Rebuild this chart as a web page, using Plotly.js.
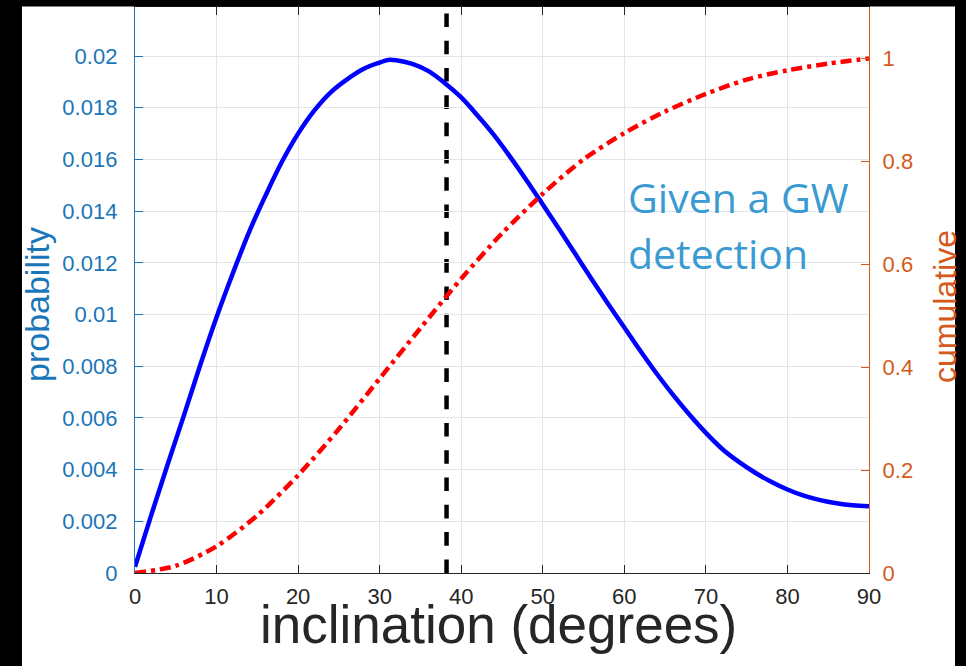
<!DOCTYPE html>
<html>
<head>
<meta charset="utf-8">
<script src="https://cdn.plot.ly/plotly-3.0.1.min.js"></script>
<style>html,body{margin:0;padding:0;background:#fff;}#chart{width:966px;height:666px;}</style>
</head>
<body>
<div id="chart"></div>
<script>
// inclination (degrees) sample points for the probability curve
const pdfInclination = [0,2,4,6,8,10,12,14,16,18,20,22,24,26,28,30,31,32,34,36,38,40,42,44,46,48,50,52,54,56,58,60,62,64,66,68,70,72,74,76,78,80,82,84,86,88,90];
// probability per degree (left axis)
const pdfProbability = [0.00024,0.00225,0.0042,0.0061,0.00805,0.0099,0.0116,0.0132,0.0146,0.0159,0.0170,0.0179,0.0186,0.0191,0.0195,0.01975,0.01985,0.01984,0.0197,0.01942,0.01895,0.0184,0.0177,0.01695,0.0161,0.0152,0.01426,0.01331,0.01234,0.01137,0.01042,0.0095,0.00858,0.0077,0.00688,0.00612,0.00542,0.0048,0.00431,0.00389,0.00353,0.00323,0.00299,0.00282,0.0027,0.00262,0.00258];
// inclination sample points for cumulative curve
const cdfInclination = [0,5,10,15,20,25,30,35,40,45,50,55,60,65,70,75,80,85,90];
// cumulative probability (right axis)
const cdfCumulative = [0,0.014,0.052,0.112,0.19,0.28,0.378,0.476,0.572,0.660,0.737,0.804,0.855,0.897,0.931,0.959,0.977,0.990,1.0];
// vertical dashed marker (degrees)
const markerInclination = [38.2];
// tick labels
const xTickVals = [0,10,20,30,40,50,60,70,80,90];
const xTickText = ['0','10','20','30','40','50','60','70','80','90'];
const yTickVals = [0,0.002,0.004,0.006,0.008,0.01,0.012,0.014,0.016,0.018,0.02];
const yTickText = ['0','0.002','0.004','0.006','0.008','0.01','0.012','0.014','0.016','0.018','0.02'];
const y2TickVals = [0,0.2,0.4,0.6,0.8,1];
const y2TickText = ['0','0.2','0.4','0.6','0.8','1'];
const axisTitles = {x:'inclination (degrees)', y:'probability', y2:'cumulative'};
const noteLines = ['Given a GW','detection'];

const BLUE_AX = '#1a76b8';
const ORANGE_AX = '#d45a20';
const FONT = 'Liberation Sans, Arial, Helvetica, sans-serif';

const traces = [
  {x: pdfInclination, y: pdfProbability, type:'scatter', mode:'lines', yaxis:'y',
   line:{color:'#0000ff', width:4.5, shape:'spline', smoothing:1}, hoverinfo:'skip'},
  {x: cdfInclination, y: cdfCumulative, type:'scatter', mode:'lines', yaxis:'y2',
   line:{color:'#ff0000', width:4.5, dash:'11px,5px,4px,5px', shape:'spline', smoothing:0.8}, hoverinfo:'skip'}
];

const blackBox = (x0,x1,y0,y1) => ({type:'rect', xref:'paper', yref:'paper', x0:x0, x1:x1, y0:y0, y1:y1,
  fillcolor:'#000', line:{width:0}, layer:'above'});

const layout = {
  width:966, height:666,
  margin:{l:135, r:97, t:7, b:93, pad:0},
  paper_bgcolor:'#fff', plot_bgcolor:'#fff',
  showlegend:false,
  font:{family:FONT},
  xaxis:{range:[0,90], tickvals:xTickVals, ticktext:xTickText, ticks:'inside', ticklen:8, tickwidth:1,
    tickcolor:'#262626', showline:true, linecolor:'#262626', linewidth:1.2, mirror:'ticks',
    showgrid:true, gridcolor:'#e2e6eb', gridwidth:1, zeroline:false,
    tickfont:{size:22, color:'#262626', family:FONT}, ticklabelstandoff:3},
  yaxis:{range:[0,0.0219], tickvals:yTickVals, ticktext:yTickText, ticks:'inside', ticklen:8, tickwidth:1,
    tickcolor:BLUE_AX, showline:true, linecolor:BLUE_AX, linewidth:1.2, mirror:false,
    showgrid:true, gridcolor:'#e2e6eb', gridwidth:1, zeroline:false,
    tickfont:{size:22, color:BLUE_AX, family:FONT}, ticklabelstandoff:12},
  yaxis2:{range:[0,1.1], overlaying:'y', side:'right', tickvals:y2TickVals, ticktext:y2TickText,
    ticks:'inside', ticklen:8, tickwidth:1, tickcolor:ORANGE_AX, showline:true, linecolor:ORANGE_AX, linewidth:1.2,
    showgrid:false, zeroline:false, tickfont:{size:22, color:ORANGE_AX, family:FONT}, ticklabelstandoff:8},
  shapes:[
    {type:'line', xref:'x', yref:'paper', x0:markerInclination[0], x1:markerInclination[0], y0:0, y1:1,
     line:{color:'#000', width:4.5, dash:'13.6px,13.7px'}, layer:'between'},
    blackBox(-0.4, -0.154, -0.3, 1.2),
    blackBox(-0.4, 1.4, 1.0009, 1.2),
    blackBox(1.1172, 1.4, -0.3, 1.2)
  ],
  annotations:[
    {xref:'paper', yref:'paper', x:(498-135)/734, y:(573-624)/566, xanchor:'center', yanchor:'middle', showarrow:false,
     text:axisTitles.x, font:{size:53, color:'#262626', family:FONT}},
    {xref:'paper', yref:'paper', x:(37-135)/734, y:(573-305)/566, xanchor:'center', yanchor:'middle', showarrow:false,
     textangle:-90, text:axisTitles.y, font:{size:34, color:BLUE_AX, family:FONT}},
    {xref:'paper', yref:'paper', x:(945-135)/734, y:(573-307)/566, xanchor:'center', yanchor:'middle', showarrow:false,
     textangle:-90, text:axisTitles.y2, font:{size:32, color:ORANGE_AX, family:FONT}},
    {xref:'x', yref:'paper', x:60.2, y:(573-197)/566, xanchor:'left', yanchor:'middle', showarrow:false,
     text:noteLines[0], font:{family:'Open Sans, Noto Sans, sans-serif', size:41, color:'#3a9ad2'}},
    {xref:'x', yref:'paper', x:60.2, y:(573-253)/566, xanchor:'left', yanchor:'middle', showarrow:false,
     text:noteLines[1], font:{family:'Open Sans, Noto Sans, sans-serif', size:41, color:'#3a9ad2'}}
  ]
};

Plotly.newPlot('chart', traces, layout, {displayModeBar:false, staticPlot:true});
</script>
</body>
</html>
